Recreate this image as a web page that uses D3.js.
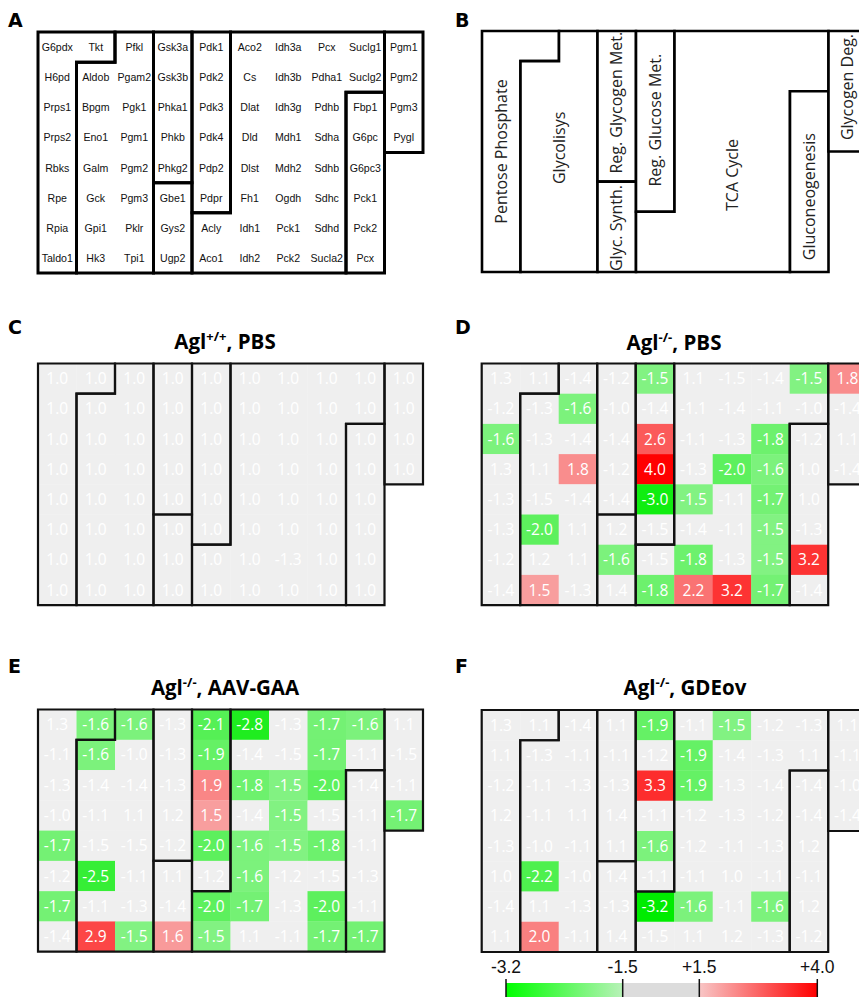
<!DOCTYPE html>
<html><head><meta charset="utf-8">
<script src="https://cdn.jsdelivr.net/npm/d3@7"></script>
<style>body{margin:0;background:#fff}</style>
</head><body><svg id="c" width="859" height="997"></svg>
<script>
// ---------- DATA ----------
const geneRows = [
  ["G6pdx","Tkt","Pfkl","Gsk3a","Pdk1","Aco2","Idh3a","Pcx","Suclg1","Pgm1"],
  ["H6pd","Aldob","Pgam2","Gsk3b","Pdk2","Cs","Idh3b","Pdha1","Suclg2","Pgm2"],
  ["Prps1","Bpgm","Pgk1","Phka1","Pdk3","Dlat","Idh3g","Pdhb","Fbp1","Pgm3"],
  ["Prps2","Eno1","Pgm1","Phkb","Pdk4","Dld","Mdh1","Sdha","G6pc","Pygl"],
  ["Rbks","Galm","Pgm2","Phkg2","Pdp2","Dlst","Mdh2","Sdhb","G6pc3",null],
  ["Rpe","Gck","Pgm3","Gbe1","Pdpr","Fh1","Ogdh","Sdhc","Pck1",null],
  ["Rpia","Gpi1","Pklr","Gys2","Acly","Idh1","Pck1","Sdhd","Pck2",null],
  ["Taldo1","Hk3","Tpi1","Ugp2","Aco1","Idh2","Pck2","Sucla2","Pcx",null]
];
const regionNames = ["Pentose Phosphate","Glycolisys","Reg. Glycogen Met.","Glyc. Synth.",
  "Reg. Glucose Met.","TCA Cycle","Gluconeogenesis","Glycogen Deg."];

const valuesC = [
  [1.0,1.0,1.0,1.0,1.0,1.0,1.0,1.0,1.0,1.0],
  [1.0,1.0,1.0,1.0,1.0,1.0,1.0,1.0,1.0,1.0],
  [1.0,1.0,1.0,1.0,1.0,1.0,1.0,1.0,1.0,1.0],
  [1.0,1.0,1.0,1.0,1.0,1.0,1.0,1.0,1.0,1.0],
  [1.0,1.0,1.0,1.0,1.0,1.0,1.0,1.0,1.0,null],
  [1.0,1.0,1.0,1.0,1.0,1.0,1.0,1.0,1.0,null],
  [1.0,1.0,1.0,1.0,1.0,1.0,-1.3,1.0,1.0,null],
  [1.0,1.0,1.0,1.0,1.0,1.0,1.0,1.0,1.0,null]
];
const valuesD = [
  [1.3,1.1,-1.4,-1.2,-1.53,1.1,-1.47,-1.4,-1.53,1.8],
  [-1.2,-1.3,-1.6,-1.0,-1.4,-1.1,-1.4,-1.1,-1.0,-1.4],
  [-1.6,-1.3,-1.4,-1.4,2.6,-1.1,-1.3,-1.8,-1.2,1.1],
  [1.3,1.1,1.8,-1.2,4.0,-1.3,-2.0,-1.6,1.0,-1.4],
  [-1.3,-1.47,-1.4,-1.4,-3.0,-1.53,-1.1,-1.7,1.0,null],
  [-1.3,-2.0,1.1,1.2,-1.47,-1.4,-1.1,-1.53,-1.3,null],
  [-1.2,1.2,1.1,-1.6,-1.47,-1.8,-1.3,-1.53,3.2,null],
  [-1.4,1.53,-1.3,1.4,-1.8,2.2,3.2,-1.7,-1.4,null]
];
const valuesE = [
  [1.3,-1.6,-1.6,-1.3,-2.1,-2.8,-1.3,-1.7,-1.6,1.1],
  [-1.1,-1.6,-1.0,-1.3,-1.9,-1.4,-1.47,-1.7,-1.1,-1.47],
  [-1.3,-1.4,-1.4,-1.3,1.9,-1.8,-1.53,-2.0,-1.4,-1.1],
  [-1.0,-1.1,1.1,1.2,1.53,-1.4,-1.53,-1.47,-1.1,-1.7],
  [-1.7,-1.47,-1.47,-1.2,-2.0,-1.6,-1.53,-1.8,-1.1,null],
  [-1.2,-2.5,-1.1,1.1,-1.2,-1.6,-1.2,-1.47,-1.3,null],
  [-1.7,-1.1,-1.3,-1.4,-2.0,-1.7,-1.3,-2.0,-1.1,null],
  [-1.4,2.9,-1.53,1.6,-1.53,1.1,-1.1,-1.7,-1.7,null]
];
const valuesF = [
  [1.3,1.1,-1.4,1.1,-1.9,-1.1,-1.53,-1.2,-1.3,1.1],
  [1.1,-1.3,-1.1,-1.1,-1.2,-1.9,-1.4,-1.3,1.1,-1.1],
  [-1.2,-1.1,-1.3,-1.3,3.3,-1.9,-1.3,-1.4,-1.4,-1.0],
  [1.2,-1.1,1.1,1.4,-1.1,-1.2,-1.3,-1.2,-1.4,-1.4],
  [-1.3,-1.0,-1.1,1.1,-1.6,-1.2,-1.1,-1.3,1.2,null],
  [1.0,-2.2,-1.0,1.4,-1.1,-1.1,1.0,-1.1,-1.1,null],
  [-1.4,1.1,-1.3,-1.3,-3.2,-1.6,-1.1,-1.6,1.2,null],
  [1.1,2.0,-1.1,1.4,-1.47,1.1,1.2,-1.3,-1.2,null]
];
const titleMain = ["Agl","Agl","Agl","Agl"];
const titleSup = ["+/+","-/-","-/-","-/-"];
const titleRest = [", PBS",", PBS",", AAV-GAA",", GDEov"];
const legendStops = [-3.2,-1.5,1.5,4.0];
const legendTickLabels = ["-3.2","-1.5","+1.5","+4.0"];

// ---------- LAYOUT ----------
const regionShapes = [
  [[0,0],[2,0],[2,1],[1,1],[1,8],[0,8]],
  [[2,0],[3,0],[3,8],[1,8],[1,1],[2,1]],
  [[3,0],[4,0],[4,5],[3,5]],
  [[3,5],[4,5],[4,8],[3,8]],
  [[4,0],[5,0],[5,6],[4,6]],
  [[5,0],[9,0],[9,2],[8,2],[8,8],[4,8],[4,6],[5,6]],
  [[8,2],[9,2],[9,8],[8,8]],
  [[9,0],[10,0],[10,4],[9,4]]
];
const regionLabelAt = [[0.5,4.0],[2,3.88],[3.5,2.38],[3.5,6.54],[4.5,2.96],[6.5,4.78],[8.5,5.5],[9.5,1.86]];

const svg = d3.select("#c");
const W = 385, H = 241.6;

function grid(x0,y0,h){
  return {x: d3.scaleLinear().domain([0,10]).range([x0,x0+W]),
          y: d3.scaleLinear().domain([0,8]).range([y0,y0+(h||H)])};
}
const line = (sc) => d3.line().x(d=>sc.x(d[0])).y(d=>sc.y(d[1])).curve(d3.curveLinearClosed);

function panelLetter(t,x,y){
  svg.append("text").attr("x",x).attr("y",y).text(t)
    .attr("font-family","DejaVu Sans, sans-serif").attr("font-weight","bold")
    .attr("font-size",19).attr("fill","#000");
}

// Panel A
{
  const sc = grid(38,32,241);
  const g = svg.append("g");
  regionShapes.forEach(s=>g.append("path").attr("d",line(sc)(s)).attr("fill","#fff"));
  geneRows.forEach((row,r)=>row.forEach((name,c)=>{
    if(name==null) return;
    g.append("text").attr("x",sc.x(c+0.5)).attr("y",sc.y(r+0.5)+4)
      .attr("text-anchor","middle").attr("font-family","Liberation Sans, Arial, sans-serif")
      .attr("font-size",10.6).attr("fill","#111").text(name);
  }));
  regionShapes.forEach(s=>g.append("path").attr("d",line(sc)(s)).attr("fill","none")
    .attr("stroke","#000").attr("stroke-width",3).attr("stroke-linejoin","miter"));
  panelLetter("A",8,27);
}
// Panel B
{
  const sc = grid(482,31,241);
  const g = svg.append("g");
  regionShapes.forEach((s,i)=>{
    g.append("path").attr("d",line(sc)(s)).attr("fill","#fff")
      .attr("stroke","#000").attr("stroke-width",2.6);
  });
  regionNames.forEach((n,i)=>{
    const [cx,cy]=regionLabelAt[i];
    g.append("text").attr("transform",`translate(${sc.x(cx)+5.5},${sc.y(cy)}) rotate(-90)`)
      .attr("text-anchor","middle").attr("font-family","Open Sans, sans-serif")
      .attr("font-size",16).attr("fill","#222").text(n);
  });
  panelLetter("B",455,27);
}

// Heatmaps
const green = d3.scaleLinear().domain([-3.2,-1.5]).range(["rgb(0,236,0)","rgb(132,242,132)"]).clamp(true);
const red = d3.scaleLinear().domain([1.5,4.0]).range(["rgb(248,160,160)","rgb(255,0,0)"]).clamp(true);
const cellColor = v => v <= -1.5 ? green(v) : (v >= 1.5 ? red(v) : "#efefef");

function heatmap(vals,x0,y0,h,idx,titleX,titleY,letter,lx,ly){
  const sc = grid(x0,y0,h);
  const g = svg.append("g");
  const cw = sc.x(1)-sc.x(0), ch = sc.y(1)-sc.y(0);
  vals.forEach((row,r)=>row.forEach((v,c)=>{
    if(v==null) return;
    g.append("rect").attr("x",sc.x(c)).attr("y",sc.y(r)).attr("width",cw+0.3).attr("height",ch+0.3)
      .attr("fill",cellColor(v));
    g.append("text").attr("x",sc.x(c+0.5)).attr("y",sc.y(r+0.5)+5.5)
      .attr("text-anchor","middle").attr("font-family","Open Sans, sans-serif")
      .attr("font-size",15.5).attr("fill","#fff").text(v.toFixed(1));
  }));
  regionShapes.forEach(s=>g.append("path").attr("d",line(sc)(s)).attr("fill","none")
    .attr("stroke","#111").attr("stroke-width",2.2));
  const t = svg.append("text").attr("x",titleX).attr("y",titleY).attr("text-anchor","middle")
    .attr("font-family","Open Sans, sans-serif").attr("font-weight","bold").attr("font-size",20.5).attr("fill","#000");
  t.append("tspan").text(titleMain[idx]);
  t.append("tspan").attr("font-size",13).attr("dy",-8).text(titleSup[idx]);
  t.append("tspan").attr("dy",8).text(titleRest[idx]);
  panelLetter(letter,lx,ly);
}
heatmap(valuesC,38,363.5,241.6,0,225,349,"C",8,334);
heatmap(valuesD,481.7,363.5,241.6,1,674,350,"D",455,334);
heatmap(valuesE,38,709.5,242.2,2,225,695,"E",8,673);
heatmap(valuesF,481.7,710,242,3,685,695,"F",455,673);

// Legend
{
  const lx = d3.scaleLinear().domain(legendStops).range([506,622.7,699.3,817.3]);
  const defs = svg.append("defs");
  const gg = defs.append("linearGradient").attr("id","gGreen");
  gg.append("stop").attr("offset","0%").attr("stop-color","#00ff00");
  gg.append("stop").attr("offset","100%").attr("stop-color","#b8f2b8");
  const gr = defs.append("linearGradient").attr("id","gRed");
  gr.append("stop").attr("offset","0%").attr("stop-color","#f8c6c6");
  gr.append("stop").attr("offset","100%").attr("stop-color","#ff0000");
  const y0 = 983;
  svg.append("rect").attr("x",lx(-3.2)).attr("y",y0).attr("width",lx(-1.5)-lx(-3.2)).attr("height",20).attr("fill","url(#gGreen)");
  svg.append("rect").attr("x",lx(-1.5)).attr("y",y0).attr("width",lx(1.5)-lx(-1.5)).attr("height",20).attr("fill","#dcdcdc");
  svg.append("rect").attr("x",lx(1.5)).attr("y",y0).attr("width",lx(4.0)-lx(1.5)).attr("height",20).attr("fill","url(#gRed)");
  legendStops.forEach((v,i)=>{
    svg.append("line").attr("x1",lx(v)).attr("x2",lx(v)).attr("y1",979).attr("y2",1000)
      .attr("stroke","#111").attr("stroke-width",1.5);
    svg.append("text").attr("x",lx(v)).attr("y",973).attr("text-anchor","middle")
      .attr("font-family","Liberation Sans, Arial, sans-serif").attr("font-size",17.5).attr("fill","#111")
      .text(legendTickLabels[i]);
  });
}
</script></body></html>
